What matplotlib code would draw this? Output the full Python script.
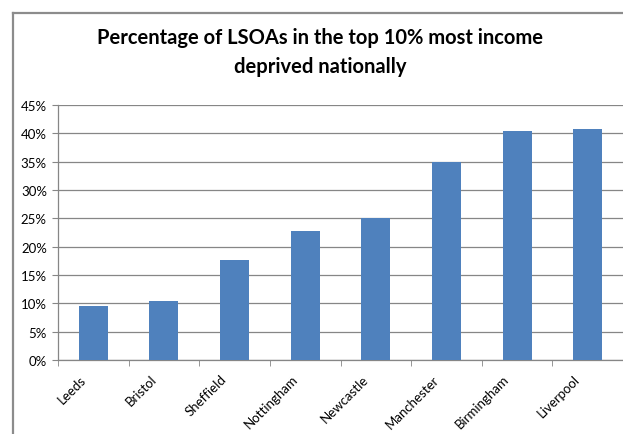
import numpy as np
import matplotlib
matplotlib.use("Agg")
from matplotlib import pyplot as plt
from matplotlib.lines import Line2D
from matplotlib.ticker import PercentFormatter
from matplotlib.transforms import ScaledTranslation

# values
cities = ["Leeds", "Bristol", "Sheffield", "Nottingham", "Newcastle",
          "Manchester", "Birmingham", "Liverpool"]
share = [0.096, 0.104, 0.176, 0.227, 0.250, 0.350, 0.405, 0.407]
y_ticks = [0.0, 0.05, 0.10, 0.15, 0.20, 0.25, 0.30, 0.35, 0.40, 0.45]

plt.rcParams['font.family'] = ['Lato', 'DejaVu Sans']
grey = "#868686"

fig = plt.figure(figsize=(6.23, 4.35), dpi=100)
W, H = 623, 435
ax = fig.add_axes([58 / W, (H - 361) / H, 565 / W, 255 / H])

x = np.arange(len(cities))
ax.bar(x, share, width=0.41, color="#4F81BD", zorder=3)

ax.set_xlim(-0.5, len(cities) - 0.5)
ax.set_ylim(0, 0.45)
ax.set_yticks(y_ticks)
ax.yaxis.set_major_formatter(PercentFormatter(1.0, decimals=0))
ax.grid(axis="y", color=grey, linewidth=0.9, zorder=0)

ax.set_xticks(x)
ax.set_xticklabels(cities, rotation=45, ha="right", va="top",
                   rotation_mode="anchor", fontsize=9.5)
ax.set_xticks(np.arange(len(cities) + 1) - 0.5, minor=True)
ax.tick_params(axis="x", which="major", length=0, pad=9)
ax.tick_params(axis="x", which="minor", length=4, color=grey)
ax.tick_params(axis="y", length=4, color=grey, labelsize=9.5, pad=4)

# shift the rotated labels to the left, as in the reference
shift = ScaledTranslation(-14 / 100, 0, fig.dpi_scale_trans)
for lbl in ax.get_xticklabels():
    lbl.set_transform(lbl.get_transform() + shift)

for side in ("top", "right"):
    ax.spines[side].set_visible(False)
for side in ("left", "bottom"):
    ax.spines[side].set_color(grey)
    ax.spines[side].set_linewidth(0.9)

fig.text(320 / W, 1 - 38 / H, "Percentage of LSOAs in the top 10% most income",
         ha="center", va="center", fontsize=14.5, fontweight="bold")
fig.text(320 / W, 1 - 67 / H, "deprived nationally",
         ha="center", va="center", fontsize=14.5, fontweight="bold")

# outer chart frame (only the top and left edges are in view)
fig.add_artist(Line2D([12.5 / W, 1], [1 - 13.5 / H, 1 - 13.5 / H],
                      color="#8c8c8c", linewidth=1.6))
fig.add_artist(Line2D([12.5 / W, 12.5 / W], [0, 1 - 13.5 / H],
                      color="#8c8c8c", linewidth=1.6))

fig.savefig("out.png", dpi=100)
